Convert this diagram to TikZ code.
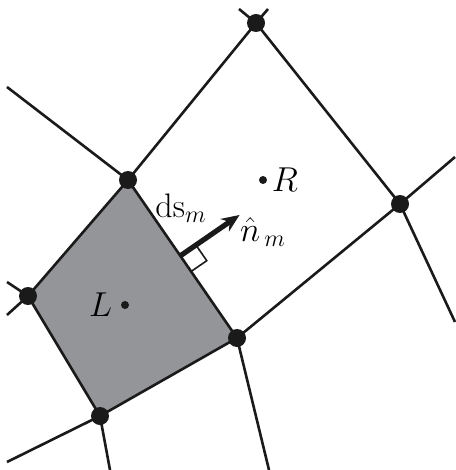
\documentclass[tikz,border=0pt]{standalone}
\usepackage{amsmath}
\usepackage{tikz}
\usetikzlibrary{calc, arrows.meta, positioning}
\definecolor{cellgray}{HTML}{939598}
\definecolor{ink}{HTML}{1A1A1A}
\tikzset{
  edge/.style    = {draw=ink, line width=1.3pt},
  vertex/.style  = {circle, fill=ink, inner sep=0pt, minimum size=9pt},
  centre/.style  = {circle, fill=ink, inner sep=0pt, minimum size=4pt},
  lbl/.style     = {font=\fontsize{17}{19}\selectfont, inner sep=0pt},
  normalar/.style= {-{Stealth[length=9pt,width=7.5pt]}, draw=ink, line width=2.6pt},
}
\begin{document}
\begin{tikzpicture}[x=0.5pt, y=-0.5pt]
  \useasboundingbox (0,0) rectangle (455,470);

  % cell vertices
  \coordinate (A) at (128,180);
  \coordinate (B) at (28,296);
  \coordinate (C) at (100,416);
  \coordinate (D) at (237,338);
  \coordinate (T) at (256,23);
  \coordinate (E) at (400,204);

  % free ends at the border
  \coordinate (Aout) at (7,87);
  \coordinate (Tl) at (239,9);
  \coordinate (Tr) at (268,9);
  \coordinate (Bu) at (7,282);
  \coordinate (Bd) at (7,315);
  \coordinate (Cl) at (7,462);
  \coordinate (Cd) at (110,470);
  \coordinate (Dd) at (269,470);
  \coordinate (Eu) at (455,157);
  \coordinate (Ed) at (455,322);

  % shaded cell L
  \fill[cellgray] (A) -- (B) -- (C) -- (D) -- cycle;

  \draw[edge] (A) -- (B) -- (C) -- (D) -- (A);
  \draw[edge] (A) -- (T) -- (E) -- (D);
  \draw[edge] (A) -- (Aout);
  \draw[edge] (T) -- (Tl);
  \draw[edge] (T) -- (Tr);
  \draw[edge] (B) -- (Bu);
  \draw[edge] (B) -- (Bd);
  \draw[edge] (C) -- (Cl);
  \draw[edge] (C) -- (Cd);
  \draw[edge] (D) -- (Dd);
  \draw[edge] (E) -- (Eu);
  \draw[edge] (E) -- (Ed);

  \foreach \v in {A,B,C,D,T,E}
    \node[vertex] (dot\v) at (\v) {};

  % cell centres
  \node[centre] (cL) at (125,305) {};
  \node[centre] (cR) at (263,180) {};
  \node[lbl, left=4pt of cL] (labL) {$L$};
  \node[lbl, right=2pt of cR] (labR) {$R$};

  % face normal with right-angle mark
  \coordinate (foot) at ($(A)!0.48!(D)$);
  \coordinate (tip) at ($(foot)!36pt!90:(D)$);
  \coordinate (sqa) at ($(foot)!9.5pt!90:(D)$);
  \coordinate (sqb) at ($(foot)!9.5pt!(D)$);
  \coordinate (sqc) at ($(sqa)+(sqb)-(foot)$);
  \draw[draw=ink, line width=0.8pt] (sqa) -- (sqc) -- (sqb);
  \draw[normalar] (foot) -- (tip);

  \node[lbl] (ds) at (181,208) {ds$_{m}$};
  \node[lbl] (nhat) at (263,232) {$\hat{n}_{\,m}$};
\end{tikzpicture}
\end{document}
